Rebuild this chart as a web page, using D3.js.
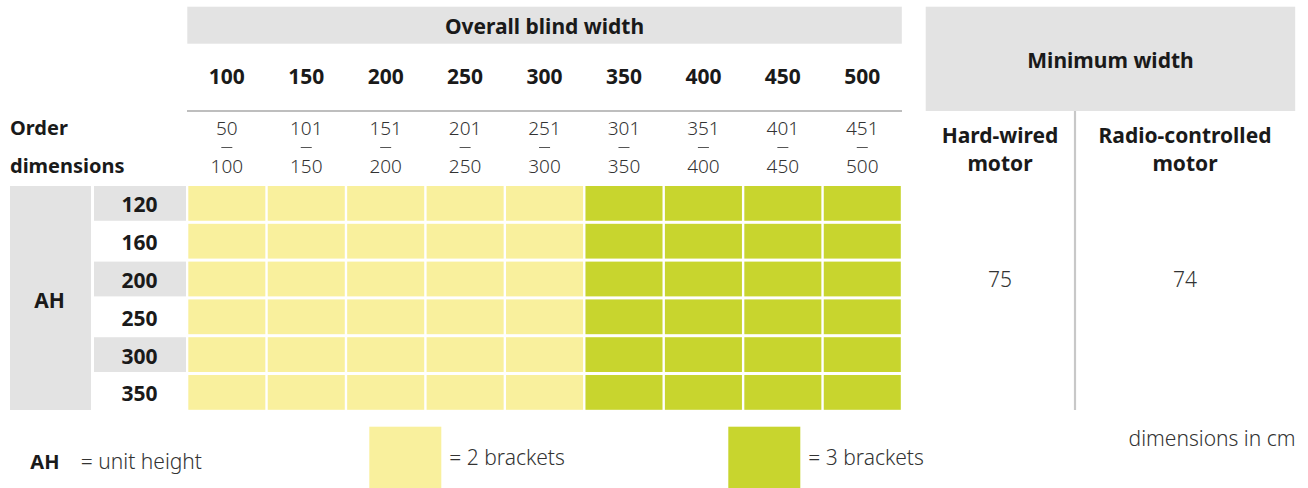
<!DOCTYPE html>
<html>
<head>
<meta charset="utf-8">
<script src="https://cdn.jsdelivr.net/npm/d3@7/dist/d3.min.js"></script>
<style>
  html, body { margin: 0; padding: 0; background: #fff; }
  svg { display: block; font-family: "Noto Sans", "Open Sans", sans-serif; }
  .b { font-weight: 700; fill: #1a1a1a; }
  .l { font-weight: 300; fill: #333; }
</style>
</head>
<body>
<svg id="chart" width="1308" height="488"></svg>
<script>
// ---- data ----
const widths = [100, 150, 200, 250, 300, 350, 400, 450, 500];
const rangeLow = [50, 101, 151, 201, 251, 301, 351, 401, 451];
const rangeHigh = [100, 150, 200, 250, 300, 350, 400, 450, 500];
const heights = [120, 160, 200, 250, 300, 350];
const bracketsByWidth = [2, 2, 2, 2, 2, 3, 3, 3, 3];
const motorTypes = [["Hard-wired", "motor"], ["Radio-controlled", "motor"]];
const minWidths = [75, 74];
const legendBrackets = [2, 3];

// ---- setup ----
const svg = d3.select("#chart");
const grey = "#e3e3e3";
const color = d3.scaleOrdinal().domain([2, 3]).range(["#f9f09d", "#c8d52e"]);

const x = d3.scaleBand().domain(widths).range([188.3, 900.8]).paddingInner(0.03);
const y = d3.scaleBand().domain(heights).range([186, 409.8]).paddingInner(0.08);

// header bar
svg.append("rect").attr("x", 187.3).attr("y", 6.7).attr("width", 714.5).attr("height", 37).attr("fill", grey);
svg.append("text").attr("class", "b").attr("x", 544.5).attr("y", 33.5)
  .attr("text-anchor", "middle").style("font-size", "21px").text("Overall blind width");

// column headers
svg.append("g").selectAll("text").data(widths).join("text")
  .attr("class", "b").attr("x", d => x(d) + x.bandwidth() / 2).attr("y", 84.3)
  .attr("text-anchor", "middle").style("font-size", "21px").text(d => d);

svg.append("line").attr("x1", 187).attr("x2", 902).attr("y1", 111).attr("y2", 111)
  .attr("stroke", "#a8a8a8").attr("stroke-width", 1.5);

// ranges
const rg = svg.append("g").selectAll("g").data(widths).join("g")
  .attr("transform", d => `translate(${x(d) + x.bandwidth() / 2},0)`);
rg.append("text").attr("class", "l").attr("y", 135).attr("text-anchor", "middle")
  .style("font-size", "19px").text((d, i) => rangeLow[i]);
rg.append("line").attr("x1", -5.5).attr("x2", 5.5).attr("y1", 147.5).attr("y2", 147.5)
  .attr("stroke", "#555").attr("stroke-width", 1);
rg.append("text").attr("class", "l").attr("y", 173.3).attr("text-anchor", "middle")
  .style("font-size", "19px").text((d, i) => rangeHigh[i]);

// order dimensions
svg.append("text").attr("class", "b").attr("x", 10).attr("y", 135).style("font-size", "20px").text("Order");
svg.append("text").attr("class", "b").attr("x", 10).attr("y", 173.3).style("font-size", "20px").text("dimensions");

// AH column
svg.append("rect").attr("x", 10).attr("y", 186).attr("width", 81).attr("height", 224).attr("fill", grey);
svg.append("text").attr("class", "b").attr("x", 49.5).attr("y", 307.7)
  .attr("text-anchor", "middle").style("font-size", "21px").text("AH");

// row labels
svg.append("g").selectAll("rect").data(heights.filter((d, i) => i % 2 === 0)).join("rect")
  .attr("x", 94).attr("y", d => y(d)).attr("width", 92).attr("height", y.bandwidth()).attr("fill", grey);
svg.append("g").selectAll("text").data(heights).join("text")
  .attr("class", "b").attr("x", 139.5).attr("y", d => y(d) + y.bandwidth() / 2 + 9)
  .attr("text-anchor", "middle").style("font-size", "21px").text(d => d);

// cells
const cells = [];
heights.forEach(h => widths.forEach((w, i) => cells.push({ h, w, b: bracketsByWidth[i] })));
svg.append("g").selectAll("rect").data(cells).join("rect")
  .attr("x", d => x(d.w)).attr("y", d => y(d.h))
  .attr("width", x.bandwidth()).attr("height", y.bandwidth())
  .attr("fill", d => color(d.b));

// right panel
svg.append("rect").attr("x", 925.7).attr("y", 6.7).attr("width", 369.5).attr("height", 104.3).attr("fill", grey);
svg.append("text").attr("class", "b").attr("x", 1110.5).attr("y", 67.7)
  .attr("text-anchor", "middle").style("font-size", "21px").text("Minimum width");
svg.append("line").attr("x1", 1075).attr("x2", 1075).attr("y1", 111).attr("y2", 410)
  .attr("stroke", "#c8c8c8").attr("stroke-width", 2.2);

const colCenters = [1000, 1185];
motorTypes.forEach((lines, i) => {
  lines.forEach((t, j) => {
    svg.append("text").attr("class", "b").attr("x", colCenters[i]).attr("y", 143.3 + j * 27.5)
      .attr("text-anchor", "middle").style("font-size", "21px").text(t);
  });
  svg.append("text").attr("class", "l").attr("x", colCenters[i]).attr("y", 287.3)
    .attr("text-anchor", "middle").style("font-size", "21px").text(minWidths[i]);
});

// legend
svg.append("text").attr("class", "b").attr("x", 30.3).attr("y", 469.3).style("font-size", "20px").text("AH");
svg.append("text").attr("class", "l").attr("x", 80.8).attr("y", 469.3).style("font-size", "21px").text("= unit height");

const legX = [369.3, 728.3];
legendBrackets.forEach((b, i) => {
  svg.append("rect").attr("x", legX[i]).attr("y", 426.7).attr("width", 72).attr("height", 61.3).attr("fill", color(b));
  svg.append("text").attr("class", "l").attr("x", legX[i] + 80).attr("y", 465)
    .style("font-size", "21px").text(`= ${b} brackets`);
});

svg.append("text").attr("class", "l").attr("x", 1295.5).attr("y", 446)
  .attr("text-anchor", "end").style("font-size", "21px").text("dimensions in cm");
</script>
</body>
</html>
